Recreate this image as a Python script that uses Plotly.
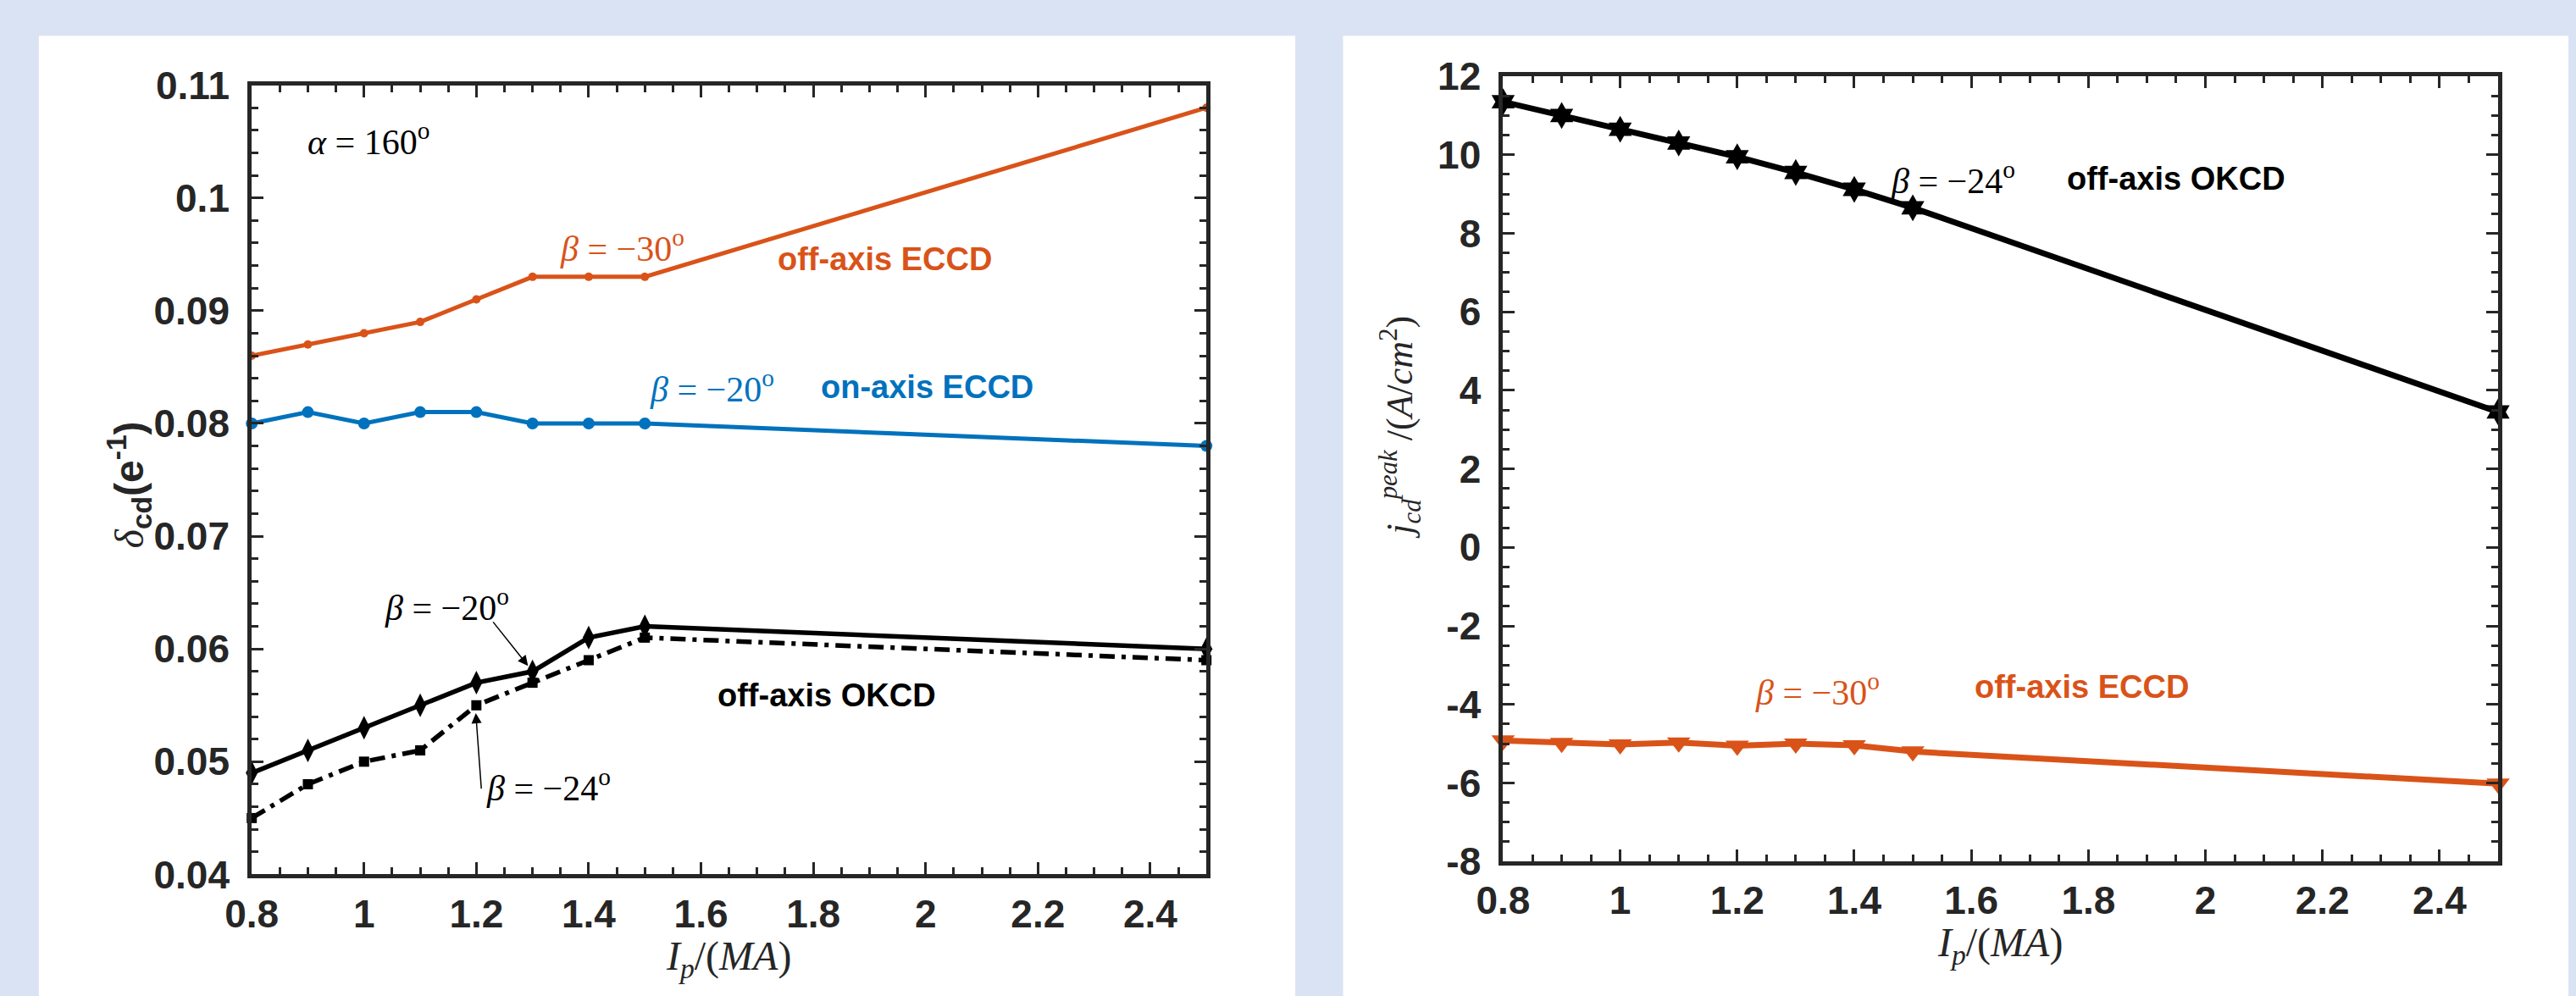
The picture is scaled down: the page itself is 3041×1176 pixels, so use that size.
import plotly.graph_objects as go

# ---------------- data ----------------
ip = [0.8, 0.9, 1.0, 1.1, 1.2, 1.3, 1.4, 1.5, 2.5]

# left panel: delta_cd
eccd_off_m30 = [0.086, 0.087, 0.088, 0.089, 0.091, 0.093, 0.093, 0.093, 0.108]
eccd_on_m20 = [0.080, 0.081, 0.080, 0.081, 0.081, 0.080, 0.080, 0.080, 0.078]
okcd_off_m20 = [0.049, 0.051, 0.053, 0.055, 0.057, 0.058, 0.061, 0.062, 0.060]
okcd_off_m24 = [0.045, 0.048, 0.050, 0.051, 0.055, 0.057, 0.059, 0.061, 0.059]

# right panel: j_cd peak
jpk_okcd_m24 = [11.35, 11.0, 10.65, 10.3, 9.95, 9.55, 9.12, 8.65, 3.45]
jpk_eccd_m30 = [-4.92, -4.98, -5.02, -4.97, -5.05, -5.0, -5.04, -5.2, -6.02]

x_tickvals = [0.8, 1.0, 1.2, 1.4, 1.6, 1.8, 2.0, 2.2, 2.4]
x_ticktext = ["0.8", "1", "1.2", "1.4", "1.6", "1.8", "2", "2.2", "2.4"]
yl_tickvals = [0.04, 0.05, 0.06, 0.07, 0.08, 0.09, 0.10, 0.11]
yl_ticktext = ["0.04", "0.05", "0.06", "0.07", "0.08", "0.09", "0.1", "0.11"]
yr_tickvals = [-8, -6, -4, -2, 0, 2, 4, 6, 8, 10, 12]
yr_ticktext = ["-8", "-6", "-4", "-2", "0", "2", "4", "6", "8", "10", "12"]

ORANGE = "#D95319"
BLUE = "#0072BD"
BLACK = "#000000"
AXC = "#262626"
BG = "#dae3f3"

W, H = 3041, 1176

def px(x):
    return x / W

def py(y):
    return 1 - y / H

fig = go.Figure()

# left panel traces
fig.add_trace(go.Scatter(x=ip, y=eccd_off_m30, mode="lines+markers", xaxis="x", yaxis="y",
                         line=dict(color=ORANGE, width=5),
                         marker=dict(symbol="circle", size=10, color=ORANGE), cliponaxis=False))
fig.add_trace(go.Scatter(x=ip, y=eccd_on_m20, mode="lines+markers", xaxis="x", yaxis="y",
                         line=dict(color=BLUE, width=5),
                         marker=dict(symbol="circle", size=14, color=BLUE), cliponaxis=False))
fig.add_trace(go.Scatter(x=ip, y=okcd_off_m20, mode="lines+markers", xaxis="x", yaxis="y",
                         line=dict(color=BLACK, width=5.5),
                         marker=dict(symbol="diamond-tall", size=20, color=BLACK), cliponaxis=False))
fig.add_trace(go.Scatter(x=ip, y=okcd_off_m24, mode="lines+markers", xaxis="x", yaxis="y",
                         line=dict(color=BLACK, width=5.5, dash="18px,8px,5px,8px"),
                         marker=dict(symbol="square", size=12, color=BLACK), cliponaxis=False))

# right panel traces
fig.add_trace(go.Scatter(x=ip, y=jpk_okcd_m24, mode="lines+markers", xaxis="x2", yaxis="y2",
                         line=dict(color=BLACK, width=7),
                         marker=dict(symbol="hexagram", size=24, color=BLACK), cliponaxis=False))
fig.add_trace(go.Scatter(x=ip, y=jpk_eccd_m30, mode="lines+markers", xaxis="x2", yaxis="y2",
                         line=dict(color=ORANGE, width=7),
                         marker=dict(symbol="triangle-down", size=24, color=ORANGE), cliponaxis=False))

tickfont = dict(family="Liberation Sans", size=46, color=AXC, weight="bold")

def xax(domain, anchor):
    return dict(domain=domain, anchor=anchor, range=[0.8, 2.5],
                tickvals=x_tickvals, ticktext=x_ticktext, tickfont=tickfont,
                ticks="inside", ticklen=14, tickwidth=3, tickcolor=AXC,
                showline=True, linewidth=5, linecolor=AXC, mirror="allticks",
                showgrid=False, zeroline=False, ticklabelstandoff=2,
                minor=dict(dtick=0.05, tick0=0.8, ticks="inside", ticklen=8, tickwidth=3,
                           tickcolor=AXC, showgrid=False))

def yax(domain, anchor, rng, tv, tt, mdt):
    return dict(domain=domain, anchor=anchor, range=rng,
                tickvals=tv, ticktext=tt, tickfont=tickfont,
                ticks="inside", ticklen=14, tickwidth=3, tickcolor=AXC,
                showline=True, linewidth=5, linecolor=AXC, mirror="allticks",
                showgrid=False, zeroline=False, ticklabelstandoff=12,
                minor=dict(dtick=mdt, tick0=rng[0], ticks="inside", ticklen=8, tickwidth=3,
                           tickcolor=AXC, showgrid=False))

fig.update_layout(
    width=W, height=H,
    margin=dict(l=0, r=0, t=0, b=0),
    paper_bgcolor=BG, plot_bgcolor="white",
    showlegend=False,
    xaxis=xax([px(268), px(1407)], "y"),
    yaxis=yax([py(1053), py(78)], "x", [0.04, 0.11], yl_tickvals, yl_ticktext, 0.002),
    xaxis2=xax([px(1761), px(2948)], "y2"),
    yaxis2=yax([py(1037), py(67)], "x2", [-8, 12], yr_tickvals, yr_ticktext, 0.5),
)

# white panels (extend past the bottom edge)
fig.add_shape(type="rect", xref="paper", yref="paper", x0=px(14), x1=px(1513), y0=-0.1, y1=py(17),
              fillcolor="white", line=dict(width=0), layer="below")
fig.add_shape(type="rect", xref="paper", yref="paper", x0=px(1570), x1=px(3032), y0=-0.1, y1=py(17),
              fillcolor="white", line=dict(width=0), layer="below")

SERIF = "Liberation Serif"
SANS = "Liberation Sans"
MATH = 42
LBL = 38

def txt(x, y, text, color, xr, yr, fam, size, bold=False):
    f = dict(family=fam, size=size, color=color)
    if bold:
        f["weight"] = "bold"
    fig.add_annotation(x=x, y=y, xref=xr, yref=yr, text=text, showarrow=False,
                       xanchor="left", yanchor="middle", font=f)

# left panel annotations
txt(0.897, 0.1052, "<i>α</i> = 160<sup>o</sup>", BLACK, "x", "y", SERIF, MATH)
txt(1.346, 0.0957, "<i>β</i> = −30<sup>o</sup>", ORANGE, "x", "y", SERIF, MATH)
txt(1.734, 0.0946, "off-axis ECCD", ORANGE, "x", "y", SANS, LBL, True)
txt(1.506, 0.0833, "<i>β</i> = −20<sup>o</sup>", BLUE, "x", "y", SERIF, MATH)
txt(1.810, 0.0832, "on-axis ECCD", BLUE, "x", "y", SANS, LBL, True)
txt(1.034, 0.0639, "<i>β</i> = −20<sup>o</sup>", BLACK, "x", "y", SERIF, MATH)
txt(1.215, 0.0479, "<i>β</i> = −24<sup>o</sup>", BLACK, "x", "y", SERIF, MATH)
txt(1.627, 0.0559, "off-axis OKCD", BLACK, "x", "y", SANS, LBL, True)

# arrows
fig.add_annotation(x=1.292, y=0.0585, ax=1.228, ay=0.0625, xref="x", yref="y", axref="x", ayref="y",
                   text="", showarrow=True, arrowhead=2, arrowsize=1.6, arrowwidth=1.5, arrowcolor=BLACK)
fig.add_annotation(x=1.199, y=0.0543, ax=1.209, ay=0.0475, xref="x", yref="y", axref="x", ayref="y",
                   text="", showarrow=True, arrowhead=2, arrowsize=1.6, arrowwidth=1.5, arrowcolor=BLACK)

# right panel annotations
txt(1.460, 9.40, "<i>β</i> = −24<sup>o</sup>", BLACK, "x2", "y2", SERIF, MATH)
txt(1.761, 9.40, "off-axis OKCD", BLACK, "x2", "y2", SANS, LBL, True)
txt(1.228, -3.63, "<i>β</i> = −30<sup>o</sup>", ORANGE, "x2", "y2", SERIF, MATH)
txt(1.602, -3.56, "off-axis ECCD", ORANGE, "x2", "y2", SANS, LBL, True)

# axis titles
xtitle = "<i>I</i><sub><i>p</i></sub>/(<i>MA</i>)"
fig.add_annotation(x=px(837), y=py(1124), xref="paper", yref="paper", text=xtitle, showarrow=False,
                   xanchor="center", yanchor="top", font=dict(family=SERIF, size=48, color=AXC))
fig.add_annotation(x=px(2354), y=py(1107), xref="paper", yref="paper", text=xtitle, showarrow=False,
                   xanchor="center", yanchor="top", font=dict(family=SERIF, size=48, color=AXC))

ylt = ('<span style="font-family:Liberation Serif;font-style:italic;font-weight:normal">δ</span>'
       '<sub>cd</sub>(e<sup>-1</sup>)')
fig.add_annotation(x=px(122), y=py(572), xref="paper", yref="paper", text=ylt, showarrow=False,
                   textangle=-90, xanchor="center", yanchor="middle",
                   font=dict(family=SANS, size=48, color=AXC, weight="bold"))
yrt = "<i>j</i><sub><i>cd</i></sub><sup><i>peak</i></sup> /(<i>A</i>/<i>cm</i><sup>2</sup>)"
fig.add_annotation(x=px(1638), y=py(500), xref="paper", yref="paper", text=yrt, showarrow=False,
                   textangle=-90, xanchor="center", yanchor="middle",
                   font=dict(family=SERIF, size=44, color=AXC))

fig.write_html("out.html")
